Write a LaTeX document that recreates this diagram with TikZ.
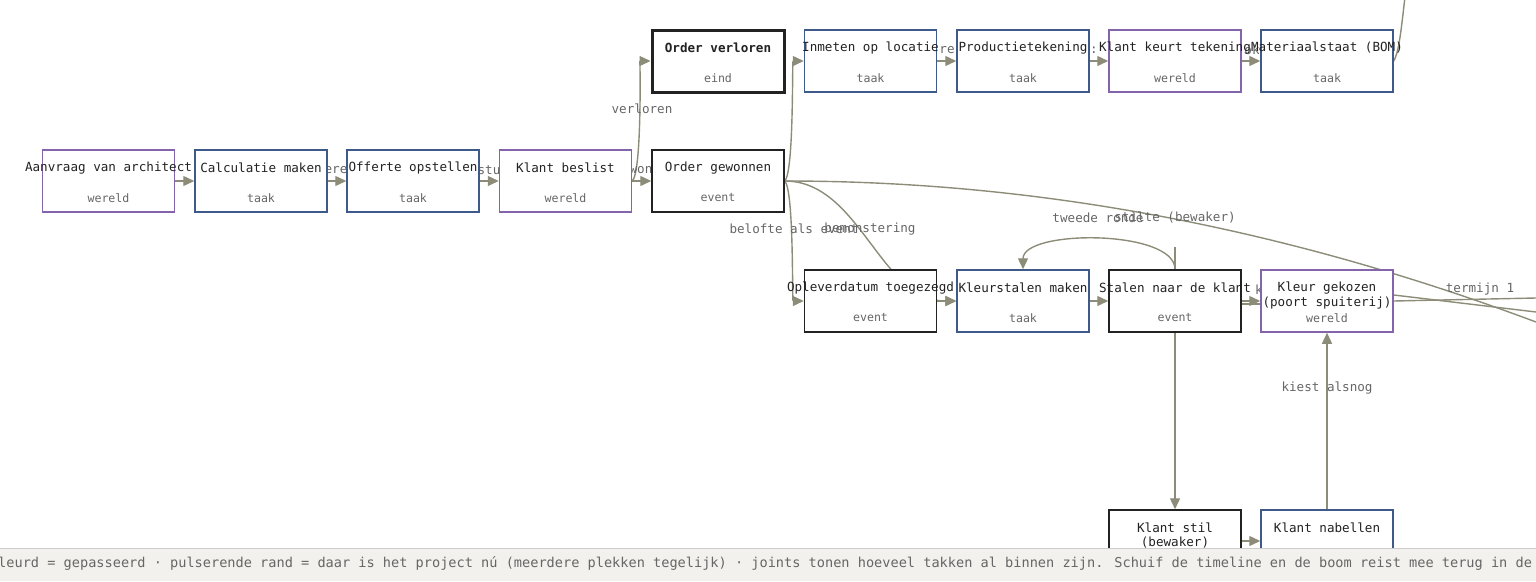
\documentclass[tikz,border=0pt]{standalone}
\usepackage{fontspec}
\setmainfont{DejaVu Sans Mono}
\usetikzlibrary{arrows.meta,backgrounds}

\definecolor{lijnkleur}{RGB}{140,140,120}
\definecolor{taakrand}{RGB}{62,90,138}
\definecolor{wereldrand}{RGB}{132,100,170}
\definecolor{eventrand}{RGB}{34,34,34}
\definecolor{subgrijs}{RGB}{102,102,102}
\definecolor{voetgrond}{RGB}{242,241,237}

\begin{document}
\begin{tikzpicture}[x=1pt,y=-1pt,
    stap/.style={draw,fill=white,line width=1.5pt,minimum width=132pt,minimum height=62pt,inner sep=0pt},
    taak/.style={stap,draw=taakrand},
    wereld/.style={stap,draw=wereldrand},
    event/.style={stap,draw=eventrand},
    eind/.style={stap,draw=eventrand,line width=3pt},
    titel/.style={text=eventrand,font=\fontsize{12.6}{15}\selectfont,inner sep=0pt,align=center},
    soort/.style={text=subgrijs,font=\fontsize{11.6}{14}\selectfont,inner sep=0pt},
    randtekst/.style={text=subgrijs,font=\fontsize{12.6}{15}\selectfont,inner sep=0pt},
    lijn/.style={draw=lijnkleur,line width=1.4pt},
    pijl/.style={lijn,-{Triangle[length=11pt,width=10pt]}},
    voettekst/.style={text=subgrijs,font=\fontsize{13.6}{16}\selectfont,inner sep=0pt}]

        \useasboundingbox (0,0) rectangle (1536,581);
        \clip (0,0) rectangle (1536,581);

        \node[wereld] (aanvraag) at (108.5,181) {};
        \node[titel] at (108.5,168) {Aanvraag van architect};
        \node[soort] at (108.5,198) {wereld};

        \node[taak] (calc) at (261,181) {};
        \node[titel] at (261,168) {Calculatie maken};
        \node[soort] at (261,198) {taak};

        \node[taak] (offerte) at (413,181) {};
        \node[titel] at (413,168) {Offerte opstellen};
        \node[soort] at (413,198) {taak};

        \node[wereld] (beslist) at (565.5,181) {};
        \node[titel] at (565.5,168) {Klant beslist};
        \node[soort] at (565.5,198) {wereld};

        \node[event] (gewonnen) at (718,181) {};
        \node[titel] at (718,168) {Order gewonnen};
        \node[soort] at (718,198) {event};

        \node[eind] (verloren) at (718,61) {};
        \node[titel,font=\fontsize{12.6}{15}\selectfont\bfseries] at (718,48) {Order verloren};
        \node[soort] at (718,78) {eind};

        \node[taak] (inmeten) at (870.5,61) {};
        \node[titel] at (870.5,48) {Inmeten op locatie};
        \node[soort] at (870.5,78) {taak};

        \node[taak] (tekening) at (1023,61) {};
        \node[titel] at (1023,48) {Productietekening};
        \node[soort] at (1023,78) {taak};

        \node[wereld] (keurt) at (1175,61) {};
        \node[titel] at (1175,48) {Klant keurt tekening};
        \node[soort] at (1175,78) {wereld};

        \node[taak] (bom) at (1327,61) {};
        \node[titel] at (1327,48) {Materiaalstaat (BOM)};
        \node[soort] at (1327,78) {taak};

        \node[event] (oplever) at (870.5,301) {};
        \node[titel] at (870.5,288) {Opleverdatum toegezegd};
        \node[soort] at (870.5,318) {event};

        \node[taak] (kleurst) at (1023,301) {};
        \node[titel] at (1023,288) {Kleurstalen maken};
        \node[soort] at (1023,318) {taak};

        \node[event] (stalen) at (1175,301) {};
        \node[titel] at (1175,288) {Stalen naar de klant};
        \node[soort] at (1175,318) {event};

        \node[wereld] (gekozen) at (1327,301) {};
        \node[titel] at (1327,288) {Kleur gekozen};
        \node[titel] at (1327,303) {(poort spuiterij)};
        \node[soort] at (1327,318) {wereld};

        \node[event] (stil) at (1175,541) {};
        \node[titel] at (1175,528) {Klant stil};
        \node[titel] at (1175,543) {(bewaker)};

        \node[taak] (nabel) at (1327,541) {};
        \node[titel] at (1327,528) {Klant nabellen};

        \begin{pgfonlayer}{background}
          \draw[pijl] (aanvraag.east) -- (calc.west);
          \draw[pijl] (calc.east) -- (offerte.west);
          \draw[pijl] (offerte.east) -- (beslist.west);
          \draw[pijl] (beslist.east) -- (gewonnen.west);
          \draw[pijl] (beslist.east) .. controls (642,172) and (640,61) .. (verloren.west);
          \draw[pijl] (gewonnen.east) .. controls (794,172) and (792,61) .. (inmeten.west);
          \draw[pijl] (gewonnen.east) .. controls (794,190) and (792,301) .. (oplever.west);
          \draw[pijl] (gewonnen.east) .. controls (860,181) and (880,301) .. (kleurst.west);
          \draw[lijn] (gewonnen.east) .. controls (1000,181) and (1250,215) .. (1536,322);
          \draw[pijl] (inmeten.east) -- (tekening.west);
          \draw[pijl] (tekening.east) -- (keurt.west);
          \draw[pijl] (keurt.east) -- (bom.west);
          \draw[lijn] (bom.east) .. controls (1400,50) and (1402,20) .. (1407,-20);
          \draw[pijl] (oplever.east) -- (kleurst.west);
          \draw[pijl] (kleurst.east) -- (stalen.west);
          \draw[pijl] (stalen.east) -- (gekozen.west);
          \draw[lijn] ([yshift=-3pt]stalen.east) -- ([yshift=-3pt]gekozen.west);
          \draw[lijn] (stalen.north) -- ++(0,-22);
          \draw[pijl] (stalen.north) .. controls +(0,-40) and +(0,-40) .. (kleurst.north);
          \draw[pijl] (stalen.south) -- (stil.north);
          \draw[pijl] (nabel.north) -- (gekozen.south);
          \draw[pijl] (stil.east) -- (nabel.west);
          \draw[lijn] (gekozen.east) -- (1536,298);
          \draw[lijn] ([yshift=6pt]gekozen.east) -- (1536,312);

          \node[randtekst] (l-ere) at (336,170) {ere};
          \node[randtekst] (l-stu) at (489,170) {stu};
          \node[randtekst] (l-won) at (641,170) {won};
          \node[randtekst] (l-re) at (947,50) {re};
          \node[randtekst] (l-dp) at (1094,50) {:};
          \node[randtekst] (l-ok) at (1252,50) {ok};
          \node[randtekst] (l-k) at (1259,290) {k};
        \end{pgfonlayer}

        \node[randtekst] (l-verloren) at (642,109) {verloren};
        \node[randtekst] (l-belofte) at (794,229) {belofte als event};
        \node[randtekst] (l-bemon) at (870,229) {bemonstering};
        \node[randtekst] (l-ronde) at (1098,218) {tweede ronde};
        \node[randtekst] (l-stilte) at (1175,218) {stilte (bewaker)};
        \node[randtekst] (l-termijn) at (1480,289) {termijn 1};
        \node[randtekst] (l-alsnog) at (1327,388) {kiest alsnog};

        \fill[voetgrond] (0,548) rectangle (1536,581);
        \draw[black!20,line width=1pt] (0,548) -- (1536,548);
        \node[voettekst,anchor=west] (legenda) at (-2,563.5) {leurd = gepasseerd · pulserende rand = daar is het project nú (meerdere plekken tegelijk) · joints tonen hoeveel takken al binnen zijn. Schuif de timeline en de boom reist mee terug in de};

      \end{tikzpicture}
\end{document}
